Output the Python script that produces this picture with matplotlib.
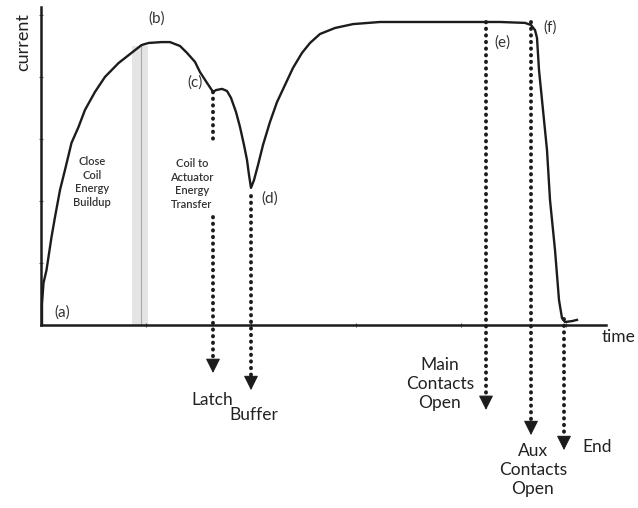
import matplotlib
matplotlib.use("Agg")
import matplotlib.pyplot as plt

plt.rcParams['font.family'] = ['Lato', 'DejaVu Sans']

# coil current trace during a breaker close operation (arbitrary units)
time = [0.2, 0.2, 0.5, 1.1, 2.1, 2.8, 3.8, 4.8, 6.1, 7.5, 8.8, 10.8, 12.8, 15.5,
        18.1, 20.1, 21.5, 24.1, 25.8, 27.8, 29.2, 30.8, 31.8, 33.2, 34.4, 35.0,
        36.2, 37.2, 38.0, 39.0, 39.8, 40.6, 41.2, 41.6, 42.0, 42.6, 43.4, 44.4,
        45.8, 47.2, 48.8, 50.4, 52.2, 53.8, 55.8, 58.8, 62.4, 67.8, 75.8, 83.8,
        91.8, 96.8, 98.0, 98.8, 99.2, 99.6, 100.2, 101.2, 101.8, 102.8, 103.6,
        104.2, 104.8, 106.2, 107.2]
current = [0.0, 7.0, 14.0, 18.3, 29.3, 36.0, 45.0, 51.7, 60.7, 66.0, 71.7, 77.7,
           82.7, 87.3, 90.7, 93.3, 94.0, 94.3, 94.3, 93.0, 90.7, 87.7, 84.3, 80.7,
           77.7, 78.3, 78.7, 78.0, 75.7, 71.0, 66.0, 60.0, 55.0, 50.0, 45.7, 48.3,
           53.3, 60.0, 67.7, 74.3, 80.0, 85.7, 90.7, 94.0, 97.0, 99.0, 100.3,
           101.0, 101.0, 101.0, 101.0, 100.7, 100.0, 98.3, 95.7, 85.0, 75.0, 58.3,
           41.7, 25.0, 8.3, 2.3, 1.0, 1.3, 1.7]

# dotted event markers: time, start of the dots, tip of the arrow
event_t = [34.4, 42.0, 89.0, 98.0, 104.6]
event_top = [77.7, 43.0, 101.0, 101.0, 2.0]
event_tip = [-16.0, -21.7, -28.3, -36.7, -41.7]
event_names = ["Latch", "Buffer", "Main\nContacts\nOpen", "Aux\nContacts\nOpen", "End"]
latch_gap = (36.0, 60.7)

# labelled points on the trace
point_names = ["(a)", "(b)", "(c)", "(d)", "(e)", "(f)"]

fig = plt.figure(figsize=(6.38, 5.08), dpi=100)
ax = fig.add_axes([0, 0, 1, 1])
ax.set_xlim(-8.2, 119.4)
ax.set_ylim(-61, 108.33)

ink = '#1c1c1c'

# boundary between the two phases
ax.fill_between([18.2, 21.4], 0, 93, color='#e4e4e4', lw=0, zorder=1)
ax.plot([20, 20], [0, 93], color='#a8a8a8', lw=0.8, zorder=1)

ax.plot(time, current, color=ink, lw=1.7, zorder=3)

dots = dict(color=ink, lw=2.8, linestyle=(0, (0.1, 1.6)),
            dash_capstyle='round', zorder=4, clip_on=False)
head_len = 4.3
for i, (t, top, tip) in enumerate(zip(event_t, event_top, event_tip)):
    if i == 0:
        ax.plot([t, t], [top, latch_gap[1]], **dots)
        ax.plot([t, t], [latch_gap[0], tip + head_len], **dots)
    else:
        ax.plot([t, t], [top, tip + head_len], **dots)
    ax.annotate("", xy=(t, tip), xytext=(t, tip + head_len),
                arrowprops=dict(arrowstyle='-|>,head_length=0.9,head_width=0.45',
                                color=ink, lw=0.8, shrinkA=0, shrinkB=0))

label_kw = dict(fontsize=12.5, color='#222222', linespacing=1.25)
ax.text(34.2, -25.0, event_names[0], ha='center', va='center', **label_kw)
ax.text(42.6, -30.0, event_names[1], ha='center', va='center', **label_kw)
ax.text(79.8, -19.7, event_names[2], ha='center', va='center', **label_kw)
ax.text(98.4, -48.3, event_names[3], ha='center', va='center', **label_kw)
ax.text(111.2, -40.7, event_names[4], ha='center', va='center', **label_kw)

pt_kw = dict(fontsize=11, color='#333333', ha='center', va='center')
for name, (x, y) in zip(point_names, [(4.2, 4.0), (23.2, 102.3), (30.8, 80.7),
                                       (45.8, 42.3), (92.2, 94.3), (101.8, 99.3)]):
    ax.text(x, y, name, **pt_kw)

phase_kw = dict(fontsize=8, color='#333333', ha='center', va='center',
                linespacing=1.3, fontweight='semibold')
ax.text(10.2, 47.7, "Close\nCoil\nEnergy\nBuildup", **phase_kw)
ax.text(30.2, 47.0, "Coil to\nActuator\nEnergy\nTransfer", **phase_kw)

ax.text(-3.6, 94.3, "current", rotation=90, ha='center', va='center',
        fontsize=13, color='#222222')
ax.text(115.6, -4.0, "time", ha='center', va='center', fontsize=12.5,
        color='#222222')

# axes drawn through the origin
for side in ['top', 'right']:
    ax.spines[side].set_visible(False)
ax.spines['left'].set_position(('data', 0))
ax.spines['bottom'].set_position(('data', 0))
ax.spines['left'].set_bounds(0, 106)
ax.spines['bottom'].set_bounds(0, 113)
for side in ['left', 'bottom']:
    ax.spines[side].set_linewidth(1.8)
    ax.spines[side].set_color(ink)
ax.set_xticks([21, 42, 63, 84, 105])
ax.set_yticks([20.7, 41.3, 62.0, 82.7, 103.3])
ax.tick_params(length=2.5, width=0.8, direction='inout', colors='#555555',
               labelbottom=False, labelleft=False)

fig.savefig("out.png", dpi=100)
